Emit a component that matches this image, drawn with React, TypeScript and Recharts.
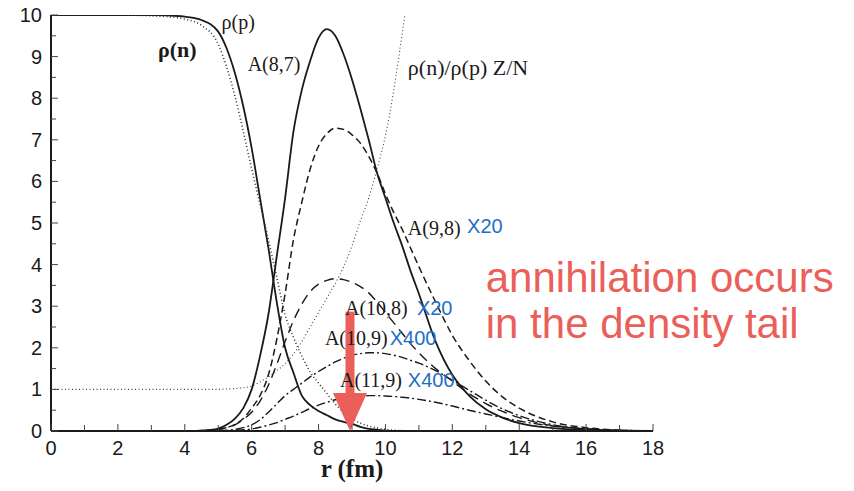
import { Line, LineChart, ReferenceDot, ReferenceLine, XAxis, YAxis } from "recharts";

// radius grid in fm (denser where the curves move)
const radius = [
  0, 1, 2, 3, 3.5, 4, 4.5, 5, 5.25, 5.5, 5.75, 6, 6.25, 6.5, 6.75, 7, 7.25, 7.5, 7.75, 8, 8.25, 8.5, 8.75, 9,
  9.25, 9.5, 9.75, 10, 10.25, 10.5, 10.75, 11, 11.5, 12, 12.5, 13, 13.5, 14, 15, 16, 17, 18
];

const rhoN = [
  10, 10, 10, 10, 9.99, 9.96, 9.88, 9.6, 9.2, 8.6, 7.8, 6.8, 5.6, 4.4, 3.1, 2.0, 1.4, 0.85, 0.62, 0.48, 0.38, 0.28,
  0.22, 0.17, 0.1, 0.05, 0.03, 0.01, 0, 0, 0, 0, 0, 0, 0, 0, 0, 0, 0, 0, 0, 0
];
const rhoP = [
  10, 10, 10, 9.98, 9.96, 9.9, 9.75, 9.3, 8.75, 8.05, 7.2, 6.3, 5.45, 4.6, 3.7, 2.8, 2.25, 1.8, 1.42, 1.15, 0.9, 0.65,
  0.45, 0.3, 0.19, 0.12, 0.07, 0.04, 0.02, 0.01, 0, 0, 0, 0, 0, 0, 0, 0, 0, 0, 0, 0
];
const ratioNP = [
  1, 1, 1, 1, 1, 1, 1, 1, 1.01, 1.02, 1.04, 1.08, 1.18, 1.3, 1.45, 1.62, 1.85, 2.15, 2.5, 2.85, 3.2, 3.55, 3.95, 4.45,
  5.05, 5.6, 6.3, 7.1, 8.2, 9.55, 11, null, null, null, null, null, null, null, null, null, null, null
];
const a87 = [
  null, null, null, null, null, 0, 0.01, 0.06, 0.15, 0.3, 0.55, 1.0, 1.8, 2.8, 4.2, 5.6, 7.2, 8.2, 8.9, 9.45, 9.66,
  9.5, 9.05, 8.45, 7.75, 7.0, 6.2, 5.6, 5.0, 4.45, 3.85, 3.3, 2.15, 1.35, 0.85, 0.52, 0.32, 0.19, 0.07, 0.02, 0.01, 0
];
const a98 = [
  null, null, null, null, null, 0, 0.01, 0.04, 0.08, 0.16, 0.3, 0.55, 0.85, 1.35, 2.2, 3.3, 4.6, 5.5, 6.3, 6.85, 7.15,
  7.28, 7.25, 7.12, 6.92, 6.6, 6.2, 5.7, 5.25, 4.85, 4.4, 3.95, 3.1, 2.3, 1.7, 1.2, 0.82, 0.55, 0.22, 0.08, 0.02, 0
];
const a108 = [
  null, null, null, null, null, 0, 0.01, 0.04, 0.08, 0.15, 0.28, 0.45, 0.72, 1.1, 1.6, 2.15, 2.65, 3.05, 3.35, 3.53,
  3.62, 3.66, 3.64, 3.57, 3.47, 3.32, 3.1, 2.85, 2.6, 2.35, 2.1, 1.88, 1.5, 1.2, 0.9, 0.66, 0.47, 0.32, 0.13, 0.05,
  0.01, 0
];
const a109 = [
  null, null, null, null, null, 0, 0, 0.01, 0.02, 0.04, 0.08, 0.15, 0.27, 0.45, 0.65, 0.85, 1.0, 1.15, 1.3, 1.43, 1.55,
  1.66, 1.75, 1.82, 1.86, 1.88, 1.88, 1.86, 1.82, 1.77, 1.7, 1.63, 1.45, 1.22, 0.98, 0.74, 0.53, 0.37, 0.15, 0.05,
  0.01, 0
];
const a119 = [
  null, null, null, null, null, 0, 0, 0, 0.01, 0.02, 0.03, 0.05, 0.09, 0.14, 0.2, 0.28, 0.36, 0.45, 0.54, 0.62, 0.69,
  0.75, 0.79, 0.82, 0.84, 0.85, 0.85, 0.84, 0.83, 0.81, 0.79, 0.76, 0.69, 0.6, 0.5, 0.41, 0.32, 0.24, 0.12, 0.05,
  0.02, 0
];

const xTicks = [0, 1, 2, 3, 4, 5, 6, 7, 8, 9, 10, 11, 12, 13, 14, 15, 16, 17, 18];
const yTicks = [0, 0.5, 1, 1.5, 2, 2.5, 3, 3.5, 4, 4.5, 5, 5.5, 6, 6.5, 7, 7.5, 8, 8.5, 9, 9.5, 10];

const data = radius.map((r, i) => ({
  r,
  rhoN: rhoN[i],
  rhoP: rhoP[i],
  ratio: ratioNP[i],
  a87: a87[i],
  a98: a98[i],
  a108: a108[i],
  a109: a109[i],
  a119: a119[i]
}));

const SERIF = "'Liberation Serif', 'Times New Roman', serif";
const SANS = "'Liberation Sans', Arial, sans-serif";
const RED = "#EB5F5A";
const BLUE = "#1F6FC5";
const INK = "#1a1a1a";

// curve labels, anchored at (r, value) = left end of the text baseline
const notes = [
  { text: "ρ(p)", r: 5.1, v: 9.66, size: 20, color: INK, font: SERIF, bold: false },
  { text: "ρ(n)", r: 3.2, v: 9.0, size: 22, color: INK, font: SERIF, bold: true },
  { text: "A(8,7)", r: 5.88, v: 8.65, size: 20, color: INK, font: SERIF, bold: false },
  { text: "ρ(n)/ρ(p) Z/N", r: 10.67, v: 8.55, size: 22, color: INK, font: SERIF, bold: false },
  { text: "A(9,8)", r: 10.67, v: 4.72, size: 20, color: INK, font: SERIF, bold: false },
  { text: "X20", r: 12.44, v: 4.75, size: 20, color: BLUE, font: SANS, bold: false },
  { text: "A(10,8)", r: 8.79, v: 2.8, size: 20, color: INK, font: SERIF, bold: false },
  { text: "X20", r: 10.94, v: 2.8, size: 20, color: BLUE, font: SANS, bold: false },
  { text: "A(10,9)", r: 8.19, v: 2.07, size: 20, color: INK, font: SERIF, bold: false },
  { text: "X400", r: 10.13, v: 2.07, size: 20, color: BLUE, font: SANS, bold: false },
  { text: "A(11,9)", r: 8.64, v: 1.06, size: 20, color: INK, font: SERIF, bold: false },
  { text: "X400", r: 10.67, v: 1.06, size: 20, color: BLUE, font: SANS, bold: false },
  { text: "annihilation occurs", r: 13.0, v: 3.35, size: 42, color: RED, font: SANS, bold: false },
  { text: "in the density tail", r: 13.0, v: 2.24, size: 42, color: RED, font: SANS, bold: false }
];

function XTick({ x, y, payload }: any) {
  const v = payload.value as number;
  const major = v % 2 === 0;
  return (
    <g>
      <line x1={x} x2={x} y1={y} y2={y - (major ? 7 : 6)} stroke="#444" strokeWidth={1} />
      {major ? (
        <text x={x} y={y + 24} textAnchor="middle" fill={INK} fontSize={20} fontFamily={SANS}>
          {v}
        </text>
      ) : null}
    </g>
  );
}

function YTick({ x, y, payload }: any) {
  const v = payload.value as number;
  const major = Number.isInteger(v);
  return (
    <g>
      <line x1={x} x2={x + (major ? 7 : 5)} y1={y} y2={y} stroke="#444" strokeWidth={1} />
      {major ? (
        <text x={x - 9} y={y + 7} textAnchor="end" fill={INK} fontSize={20} fontFamily={SANS}>
          {v}
        </text>
      ) : null}
    </g>
  );
}

export default function App() {
  return (
    <div style={{ position: "absolute", left: 0, top: 0, width: 854, height: 491, background: "#fff" }}>
      <LineChart width={854} height={491} data={data} margin={{ top: 15, right: 201, bottom: 30, left: 0 }}>
        <XAxis
          dataKey="r"
          type="number"
          domain={[0, 18]}
          ticks={xTicks}
          interval={0}
          height={30}
          tickSize={0}
          tickMargin={0}
          tickLine={false}
          tick={<XTick />}
          axisLine={{ stroke: INK, strokeWidth: 2 }}
          label={(props: any) => {
            const vb = props.viewBox;
            return (
              <text x={vb.x + vb.width / 2} y={vb.y + 46} textAnchor="middle" fill={INK} fontSize={25} fontWeight="bold" fontFamily={SERIF}>
                r (fm)
              </text>
            );
          }}
        />
        <YAxis
          type="number"
          domain={[0, 10]}
          ticks={yTicks}
          interval={0}
          width={51}
          allowDataOverflow
          tickSize={0}
          tickMargin={0}
          tickLine={false}
          tick={<YTick />}
          axisLine={{ stroke: INK, strokeWidth: 2 }}
        />
        <Line dataKey="rhoN" type="monotone" stroke={INK} strokeWidth={1.8} dot={false} isAnimationActive={false} />
        <Line dataKey="rhoP" type="monotone" stroke="#333" strokeWidth={1.6} strokeDasharray="1 2.5" dot={false} isAnimationActive={false} />
        <Line dataKey="ratio" type="monotone" stroke="#444" strokeWidth={1.1} strokeDasharray="1 2.5" dot={false} isAnimationActive={false} />
        <Line dataKey="a87" type="monotone" stroke={INK} strokeWidth={1.8} dot={false} isAnimationActive={false} />
        <Line dataKey="a98" type="monotone" stroke={INK} strokeWidth={1.5} strokeDasharray="7 4" dot={false} isAnimationActive={false} />
        <Line dataKey="a108" type="monotone" stroke={INK} strokeWidth={1.4} strokeDasharray="10 6" dot={false} isAnimationActive={false} />
        <Line dataKey="a109" type="monotone" stroke={INK} strokeWidth={1.4} strokeDasharray="9 3 2 3" dot={false} isAnimationActive={false} />
        <Line dataKey="a119" type="monotone" stroke={INK} strokeWidth={1.4} strokeDasharray="9 3 2 3" dot={false} isAnimationActive={false} />
        {notes.map((n, i) => (
          <ReferenceDot
            key={i}
            x={n.r}
            y={n.v}
            r={0}
            ifOverflow="visible"
            shape={(p: any) => (
              <text x={p.cx} y={p.cy} fill={n.color} fontSize={n.size} fontFamily={n.font} fontWeight={n.bold ? "bold" : "normal"}>
                {n.text}
              </text>
            )}
          />
        ))}
        <ReferenceLine
          segment={[
            { x: 8.94, y: 2.87 },
            { x: 8.94, y: 0.9 }
          ]}
          stroke={RED}
          strokeWidth={9}
          ifOverflow="visible"
        />
        <ReferenceDot
          x={8.94}
          y={0}
          r={0}
          ifOverflow="visible"
          shape={(p: any) => (
            <polygon points={`${p.cx - 17},${p.cy - 38} ${p.cx + 17},${p.cy - 38} ${p.cx},${p.cy}`} fill={RED} />
          )}
        />
      </LineChart>
    </div>
  );
}
